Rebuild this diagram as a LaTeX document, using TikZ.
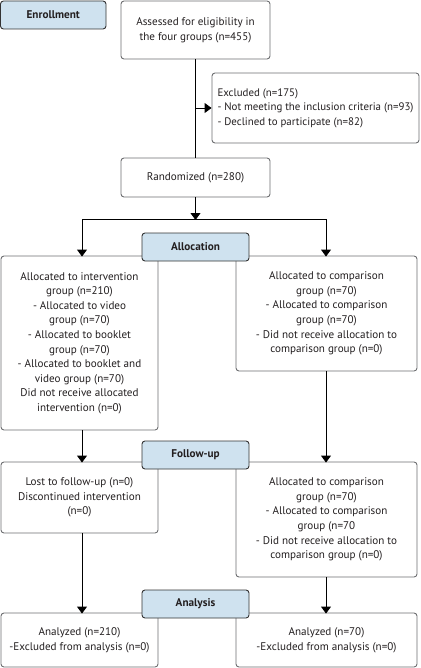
\documentclass[tikz,border=0pt]{standalone}
\usepackage{fontspec}
\setmainfont{PT Sans}
\usetikzlibrary{arrows.meta}
\definecolor{hdrfill}{HTML}{CFE2EF}
\definecolor{boxline}{HTML}{6D6E71}
\definecolor{txt}{HTML}{231F20}
\begin{document}
\begin{tikzpicture}[x=1pt,y=-1pt,
  every node/.style={font=\fontsize{11.1}{14.6}\selectfont, text=txt},
  mainbox/.style={draw=boxline, line width=0.9pt, rounded corners=3pt, fill=white, align=center, inner sep=0pt},
  hdrbox/.style={draw=black!80, line width=0.9pt, rounded corners=3pt, fill=hdrfill, align=center, inner sep=0pt, minimum width=107pt, minimum height=28pt, font=\fontsize{11.2}{14}\selectfont\bfseries},
  arr/.style={line width=0.9pt, -{Triangle[length=7pt,width=10pt]}},
  ln/.style={line width=0.9pt}]
\useasboundingbox (0,0) rectangle (420,668);
% main boxes
\node[hdrbox, minimum width=105.5pt] (enroll) at (53.25,15) {Enrollment};
\node[mainbox, minimum width=149pt, minimum height=58pt] (assess) at (195.5,30) {Assessed for eligibility in\\the four groups (n=455)};
\node[mainbox, minimum width=207pt, minimum height=70pt, align=left, font=\fontsize{10.9}{14.6}\selectfont] (excl) at (315.5,108) {Excluded (n=175)\\- Not meeting the inclusion criteria (n=93)\\- Declined to participate (n=82)};
\node[mainbox, minimum width=149pt, minimum height=39pt] (rand) at (195.5,177.5) {Randomized (n=280)};
\node[mainbox, minimum width=157pt, minimum height=174pt] (L1) at (79.5,343) {Allocated to intervention\\group (n=210)\\- Allocated to video\\group (n=70)\\- Allocated to booklet\\group (n=70)\\- Allocated to booklet and\\video group (n=70)\\Did not receive allocated\\intervention (n=0)};
\node[mainbox, minimum width=181pt, minimum height=115pt] (R1) at (326.5,313.5) {Allocated to comparison\\group (n=70)\\- Allocated to comparison\\group (n=70)\\- Did not receive allocation to\\comparison group (n=0)};
\node[mainbox, minimum width=157pt, minimum height=71pt] (L2) at (79.5,497.5) {Lost to follow-up (n=0)\\Discontinued intervention\\(n=0)};
\node[mainbox, minimum width=181pt, minimum height=115pt] (R2) at (326.5,519.5) {Allocated to comparison\\group (n=70)\\- Allocated to comparison\\group (n=70\\- Did not receive allocation to\\comparison group (n=0)};
\node[mainbox, minimum width=157pt, minimum height=54pt] (L3) at (79.5,640) {Analyzed (n=210)\\-Excluded from analysis (n=0)};
\node[mainbox, minimum width=181pt, minimum height=54pt] (R3) at (326.5,640) {Analyzed (n=70)\\-Excluded from analysis (n=0)};
% headers
\node[hdrbox] (alloc) at (195.5,247) {Allocation};
\node[hdrbox] (follow) at (195.5,455) {Follow-up};
\node[hdrbox] (analysis) at (195.5,604) {Analysis};
% connectors
\coordinate (split) at (195.5,219);
\coordinate (jl) at (82,219);
\coordinate (jr) at (326,219);
\draw[ln] (assess.south) -- (rand.north);
\draw[arr] (assess.south |- excl.west) -- (excl.west);
\draw[arr] (rand.south) -- ([yshift=-1pt]split);
\draw[ln] (jl) -- (jr);
\draw[arr] (jl) -- ([yshift=-1pt]jl |- L1.north);
\draw[arr] (jr) -- ([yshift=-1pt]jr |- R1.north);
\draw[arr] (jl |- L1.south) -- ([yshift=-1pt]jl |- L2.north);
\draw[arr] (jr |- R1.south) -- ([yshift=-1pt]jr |- R2.north);
\draw[arr] (jl |- L2.south) -- ([yshift=-1pt]jl |- L3.north);
\draw[arr] (jr |- R2.south) -- ([yshift=-1pt]jr |- R3.north);
\end{tikzpicture}
\end{document}
